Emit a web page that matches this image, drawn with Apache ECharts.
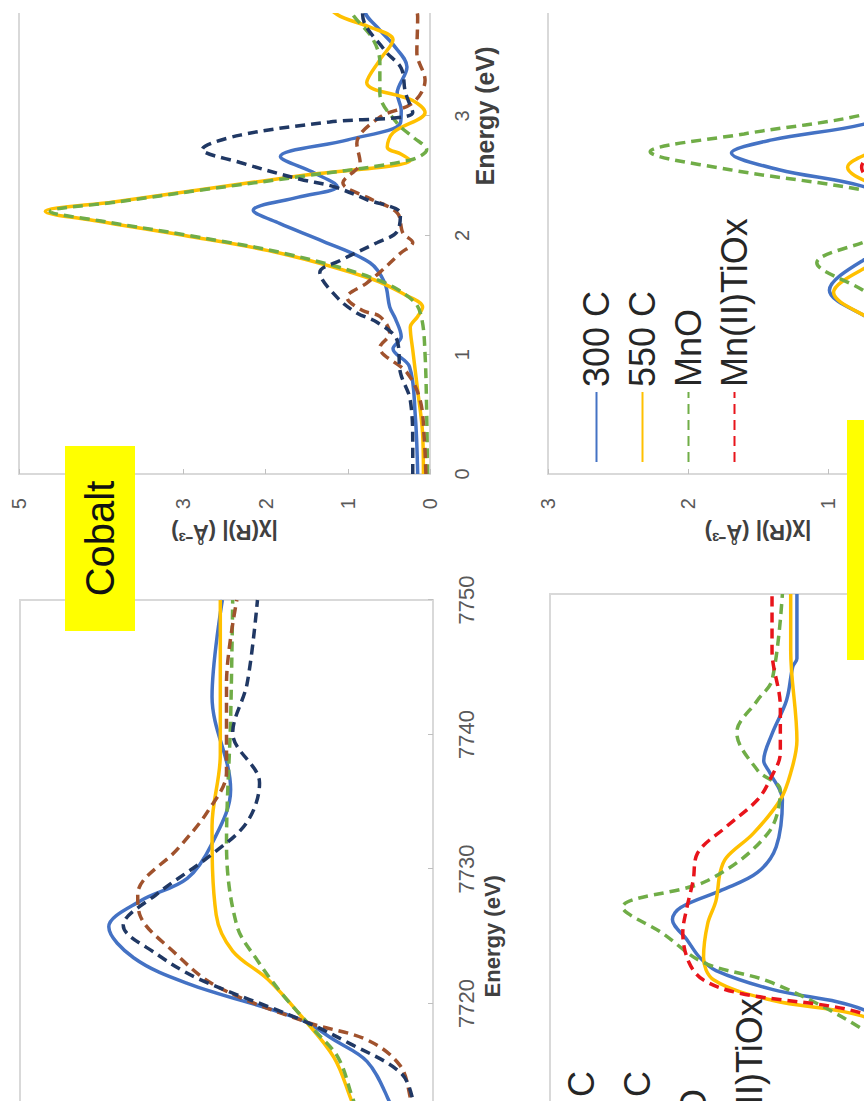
<!DOCTYPE html>
<html>
<head>
<meta charset="utf-8">
<script src="https://cdn.jsdelivr.net/npm/echarts@6/dist/echarts.min.js"></script>
<style>
  html, body { margin: 0; padding: 0; background: #fff; width: 864px; height: 1101px; overflow: hidden; }
  #frame { position: absolute; left: 0; top: 13px; width: 864px; height: 1088px; overflow: hidden; background: #fff; }
  #chart { position: absolute; left: 0; top: 0; width: 1600px; height: 1000px;
           transform-origin: 0 0; transform: translateY(1288px) rotate(-90deg); background: #fff; }
</style>
</head>
<body>
<div id="frame"><div id="chart"></div></div>
<script>
// ---------------- DATA ----------------
// Cobalt XANES: [energy (eV), normalized absorption]
const coXanes300C = [[7700,0.05],[7705,0.08],[7710,0.15],[7713,0.22],[7715.7,0.32],[7717.3,0.48],[7718.8,0.64],[7721.5,1.19],[7723.4,1.45],[7725.7,1.57],[7727.6,1.42],[7729.3,1.19],[7731.9,1.07],[7735.9,0.98],[7742.8,1.07],[7750,1.02]];
const coXanes550C = [[7700,0.08],[7705,0.18],[7710,0.33],[7713,0.40],[7716,0.48],[7719.1,0.64],[7721.8,0.80],[7723.9,0.97],[7726.6,1.05],[7733.2,1.07],[7738.5,1.03],[7750,1.03]];
const coXanesCoO = [[7700,0.07],[7705,0.17],[7710,0.32],[7713,0.39],[7716,0.46],[7718.1,0.58],[7720.7,0.73],[7723.2,0.85],[7725.8,0.95],[7731.9,1.0],[7741.2,0.98],[7750,0.97]];
const coXanesTiOx = [[7700,0.03],[7705,0.05],[7710,0.08],[7713,0.11],[7715.4,0.16],[7717.3,0.32],[7718.6,0.61],[7721.3,1.05],[7723.9,1.26],[7726.6,1.42],[7728.1,1.43],[7731.6,1.23],[7734.3,1.09],[7737.2,1.0],[7743.8,1.0],[7750,0.95]];
const coXanesCo3O4 = [[7700,0.03],[7705,0.05],[7710,0.07],[7713,0.10],[7714.9,0.16],[7717,0.40],[7718.8,0.64],[7721.8,1.13],[7723.7,1.34],[7725.8,1.50],[7728.1,1.34],[7731.1,1.07],[7733.5,0.90],[7736.4,0.84],[7740.1,0.97],[7743.8,0.90],[7750,0.85]];

// Cobalt Fourier transform: [R, |chi(R)|]
const coFt300C = [[0,0.15],[0.5,0.18],[0.9,0.25],[1.05,0.45],[1.15,0.35],[1.3,0.42],[1.4,0.49],[1.6,0.55],[1.77,0.73],[1.95,1.3],[2.1,1.83],[2.21,2.15],[2.32,1.6],[2.41,1.13],[2.52,1.4],[2.66,1.82],[2.8,1.0],[2.94,0.36],[3.05,0.35],[3.19,0.40],[3.41,0.28],[3.6,0.45],[3.72,0.61],[3.9,0.8],[4.2,0.7],[4.6,0.4],[5,0.3],[5.5,0.25],[6,0.2]];
const coFt550C = [[0,0.08],[0.34,0.09],[0.7,0.15],[1.04,0.21],[1.23,0.24],[1.32,0.15],[1.40,0.09],[1.5,0.3],[1.63,0.69],[1.85,1.82],[2.0,3.0],[2.12,4.05],[2.20,4.68],[2.28,3.85],[2.38,2.82],[2.5,1.58],[2.63,0.24],[2.68,0.35],[2.74,0.52],[2.86,0.45],[3.03,0.06],[3.13,0.21],[3.28,0.77],[3.47,0.61],[3.64,0.45],[3.75,0.75],[3.85,1.13],[4.0,1.3],[4.4,0.8],[5,0.4],[6,0.2]];
const coFtCoO = [[0,0.03],[0.5,0.04],[1.0,0.06],[1.3,0.1],[1.45,0.2],[1.63,0.65],[1.85,1.78],[2.0,2.95],[2.12,4.0],[2.20,4.62],[2.28,3.8],[2.38,2.78],[2.5,1.5],[2.63,0.25],[2.72,0.04],[2.82,0.2],[2.94,0.4],[3.19,0.61],[3.45,0.61],[3.65,0.7],[3.85,0.94],[4.0,1.05],[4.4,0.7],[5,0.35],[6,0.2]];
const coFtTiOx = [[0,0.05],[0.3,0.07],[0.62,0.12],[0.85,0.28],[1.06,0.61],[1.18,0.49],[1.32,0.61],[1.37,0.82],[1.48,1.01],[1.60,0.77],[1.69,0.61],[1.85,0.36],[1.94,0.21],[2.02,0.33],[2.19,0.40],[2.32,0.77],[2.44,1.06],[2.61,0.85],[2.77,0.89],[2.99,0.61],[3.11,0.21],[3.30,0.06],[3.53,0.16],[3.83,0.15],[4.0,0.2],[5,0.15],[6,0.1]];
const coFtCo3O4 = [[0,0.21],[0.23,0.21],[0.62,0.24],[0.85,0.36],[1.12,0.40],[1.27,0.64],[1.35,0.89],[1.48,1.13],[1.69,1.34],[1.79,1.09],[1.94,0.64],[2.03,0.40],[2.18,0.36],[2.30,0.77],[2.41,1.18],[2.47,1.58],[2.61,2.31],[2.72,2.77],[2.84,2.31],[2.95,1.22],[3.03,0.21],[3.2,0.3],[3.4,0.35],[3.55,0.55],[3.85,0.82],[4.2,0.6],[5,0.3],[6,0.2]];

// Manganese XANES: [energy (eV), normalized absorption]
const mnXanes300C = [[6530,0.03],[6535,0.05],[6540,0.08],[6543,0.14],[6545,0.22],[6547,0.35],[6549.1,0.49],[6550.6,0.93],[6552,1.20],[6553,1.28],[6554.3,1.34],[6555.8,1.41],[6556.7,1.37],[6558,1.17],[6559.3,1.0],[6561.2,0.91],[6564.7,0.88],[6566.7,0.94],[6567.6,0.97],[6569.6,0.93],[6572.1,0.86],[6574.6,0.83],[6575.2,0.81],[6580,0.81]];
const mnXanes550C = [[6530,0.03],[6535,0.05],[6540,0.08],[6543,0.14],[6545,0.22],[6547,0.36],[6548.6,0.49],[6549.8,0.93],[6551.3,1.21],[6553,1.26],[6555.5,1.24],[6557.2,1.20],[6559.3,1.18],[6560.4,1.15],[6562.2,1.02],[6564.7,0.89],[6566.7,0.84],[6569.1,0.81],[6575.8,0.84],[6580,0.84]];
const mnXanesMnO = [[6530,0.03],[6535,0.05],[6540,0.1],[6543,0.2],[6545,0.3],[6547.6,0.49],[6551.1,0.93],[6552.6,1.26],[6554.8,1.46],[6556.7,1.65],[6558.7,1.24],[6562.2,0.95],[6565.4,0.89],[6566.9,1.0],[6569.7,1.10],[6572.1,1.0],[6573.6,0.93],[6580,0.88]];
const mnXanesTiOx = [[6530,0.03],[6535,0.05],[6540,0.08],[6543,0.14],[6545,0.24],[6547,0.38],[6548.8,0.49],[6550.3,1.08],[6551.3,1.26],[6552.6,1.33],[6554.8,1.36],[6556.7,1.34],[6558.7,1.31],[6560.7,1.29],[6562.7,1.15],[6564.7,1.0],[6566.2,0.94],[6568.2,0.89],[6571.6,0.89],[6575.8,0.93],[6580,0.93]];

// Manganese Fourier transform: [R, |chi(R)|]
const mnFt300C = [[0,0.05],[0.5,0.08],[0.9,0.2],[1.1,0.4],[1.3,0.7],[1.54,0.99],[1.79,0.75],[2.0,0.35],[2.2,0.35],[2.41,0.75],[2.55,1.35],[2.69,1.69],[2.8,1.4],[2.93,0.75],[3.1,0.35],[3.3,0.25],[3.6,0.3],[4.0,0.2],[5,0.12],[6,0.08]];
const mnFt550C = [[0,0.04],[0.5,0.06],[0.9,0.18],[1.1,0.4],[1.3,0.7],[1.52,0.96],[1.75,0.7],[1.95,0.35],[2.15,0.3],[2.35,0.55],[2.57,0.86],[2.75,0.6],[2.95,0.35],[3.2,0.22],[3.6,0.25],[4.0,0.18],[5,0.1],[6,0.06]];
const mnFtMnO = [[0,0.05],[0.5,0.08],[0.9,0.15],[1.1,0.25],[1.3,0.45],[1.54,0.75],[1.77,1.08],[1.94,0.75],[2.1,0.3],[2.25,0.35],[2.38,0.75],[2.55,1.7],[2.70,2.27],[2.85,1.6],[3.01,0.75],[3.2,0.3],[3.4,0.25],[3.6,0.35],[3.8,0.3],[4.2,0.2],[5,0.12],[6,0.08]];
const mnFtTiOx = [[0,0.04],[0.5,0.06],[0.9,0.15],[1.1,0.35],[1.3,0.55],[1.5,0.65],[1.7,0.55],[1.9,0.35],[2.1,0.3],[2.3,0.5],[2.57,0.76],[2.8,0.55],[3.0,0.35],[3.3,0.2],[3.6,0.22],[4.0,0.15],[5,0.1],[6,0.06]];

const mnLegendNames = ['300 C', '550 C', 'MnO', 'Mn(II)TiOx'];
const panelLabels = ['Cobalt', 'Manganese'];
const energyTitle = 'Energy (eV)';
const ftTitle = '|\u03C7(R)| (\u00C5\u207B\u00B3)';
// tick labels that fall inside the photographed part of the figure
const coXanesTickLabels = [7720, 7730, 7740, 7750];
const ftTickLabels = [0, 1, 2, 3];

// ---------------- CHART ----------------
const FONT = 'Liberation Sans, Arial, sans-serif';
const C = { blue: '#4472C4', gold: '#FFC000', green: '#70AD47', red: '#E8141B', brown: '#A0522D', navy: '#203864' };
const AXIS_GRAY = '#d9d9d9';

function line(name, data, color, dashed, idx) {
  return {
    type: 'line', name: name, data: data, xAxisIndex: idx, yAxisIndex: idx,
    showSymbol: false, symbol: 'none', smooth: 0.35,
    lineStyle: { color: color, width: 3.5, type: dashed ? [10, 6] : 'solid' },
    itemStyle: { color: color }, z: 2
  };
}

function xAx(idx, min, max, interval, shown, fontSize, nameGap, nameSize, name) {
  return {
    type: 'value', gridIndex: idx, min: min, max: max, interval: interval,
    name: name, nameLocation: 'middle', nameGap: nameGap,
    nameTextStyle: { fontFamily: FONT, fontSize: nameSize, fontWeight: 'bold', color: '#404040' },
    axisLine: { show: true, onZero: false, lineStyle: { color: AXIS_GRAY, width: 2 } },
    axisTick: { show: true, inside: true, length: 5, lineStyle: { color: '#bfbfbf' } },
    axisLabel: { show: shown.length > 0, fontFamily: FONT, fontSize: fontSize, color: '#595959', margin: 22,
                 formatter: function (v) { return shown.indexOf(v) >= 0 ? String(v) : ''; } },
    splitLine: { show: false }
  };
}
function yAx(idx, min, max, interval, showLabels, name, showMin) {
  return {
    type: 'value', gridIndex: idx, min: min, max: max, interval: interval,
    name: name, nameLocation: 'middle', nameGap: 47,
    nameTextStyle: { fontFamily: FONT, fontSize: 22, fontWeight: 'bold', color: '#404040' },
    axisLine: { show: true, lineStyle: { color: AXIS_GRAY, width: 2 } },
    axisTick: { show: true, inside: true, length: 5, lineStyle: { color: '#bfbfbf' } },
    axisLabel: { show: showLabels, showMinLabel: showMin, fontFamily: FONT, fontSize: 20, color: '#595959', margin: 24 },
    splitLine: { show: false }
  };
}

const legendCommon = {
  orient: 'vertical', itemWidth: 70, itemHeight: 14,
  itemStyle: { opacity: 0 },
  textStyle: { fontFamily: FONT, fontSize: 36, lineHeight: 43, color: '#262626' },
  selectedMode: false, data: mnLegendNames
};

const chart = echarts.init(document.getElementById('chart'), null, { renderer: 'svg' });
chart.setOption({
  backgroundColor: '#ffffff',
  animation: false,
  grid: [
    { left: 28.5, top: 20, width: 672.5, height: 413, show: true, borderColor: AXIS_GRAY, borderWidth: 2 },
    { left: 827, top: 19, width: 716, height: 411, show: true, borderColor: AXIS_GRAY, borderWidth: 2 },
    { left: 34.5, top: 550, width: 672.5, height: 415, show: true, borderColor: AXIS_GRAY, borderWidth: 2 },
    { left: 827, top: 548, width: 716, height: 420, show: true, borderColor: AXIS_GRAY, borderWidth: 2 }
  ],
  xAxis: [
    xAx(0, 7700, 7750, 10, coXanesTickLabels, 22, 48, 22, energyTitle),
    xAx(1, 0, 6, 1, ftTickLabels, 20, 42, 25, energyTitle),
    xAx(2, 6530, 6580, 10, [], 22, 48, 22, ''),
    xAx(3, 0, 6, 1, [], 20, 42, 25, '')
  ],
  yAxis: [
    yAx(0, 0, 2, 0.5, false, '', true),
    yAx(1, 0, 5, 1, true, ftTitle, true),
    yAx(2, 0, 2, 0.5, false, '', true),
    yAx(3, 0, 3, 1, true, ftTitle, false)
  ],
  legend: [
    Object.assign({}, legendCommon, { left: 833, top: 570, itemGap: 3 }),
    Object.assign({}, legendCommon, { left: 53, top: 555, itemGap: 13 })
  ],
  series: [
    line('300 C', coXanes300C, C.blue, false, 0),
    line('550 C', coXanes550C, C.gold, false, 0),
    line('CoO', coXanesCoO, C.green, true, 0),
    line('Co(II)TiOx', coXanesTiOx, C.brown, true, 0),
    line('Co3O4', coXanesCo3O4, C.navy, true, 0),

    line('300 C', coFt300C, C.blue, false, 1),
    line('550 C', coFt550C, C.gold, false, 1),
    line('CoO', coFtCoO, C.green, true, 1),
    line('Co(II)TiOx', coFtTiOx, C.brown, true, 1),
    line('Co3O4', coFtCo3O4, C.navy, true, 1),

    line('300 C', mnXanes300C, C.blue, false, 2),
    line('550 C', mnXanes550C, C.gold, false, 2),
    line('MnO', mnXanesMnO, C.green, true, 2),
    line('Mn(II)TiOx', mnXanesTiOx, C.red, true, 2),

    line('300 C', mnFt300C, C.blue, false, 3),
    line('550 C', mnFt550C, C.gold, false, 3),
    line('MnO', mnFtMnO, C.green, true, 3),
    line('Mn(II)TiOx', mnFtTiOx, C.red, true, 3)
  ],
  graphic: [
    { type: 'rect', z: 100, shape: { x: 670, y: 65, width: 185, height: 70 }, style: { fill: '#FFFF00' } },
    { type: 'text', z: 101, x: 762.5, y: 100, style: { text: panelLabels[0], fontFamily: FONT, fontSize: 40, fill: '#111', align: 'center', verticalAlign: 'middle' } },
    { type: 'rect', z: 100, shape: { x: 641, y: 847, width: 240, height: 70 }, style: { fill: '#FFFF00' } },
    { type: 'text', z: 101, x: 761, y: 882, style: { text: panelLabels[1], fontFamily: FONT, fontSize: 40, fill: '#111', align: 'center', verticalAlign: 'middle' } }
  ]
});
</script>
</body>
</html>
